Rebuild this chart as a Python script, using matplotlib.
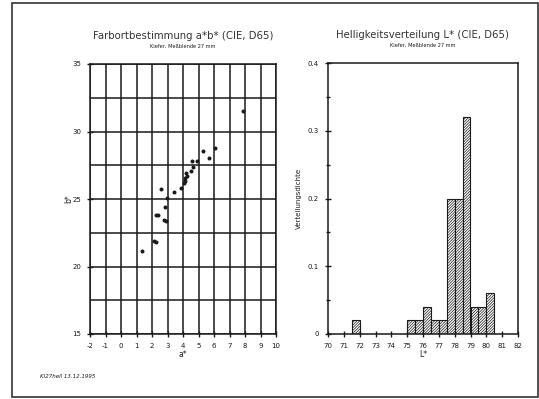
"""Farbort a*b* scatter and L* distribution histogram (Kiefer, 27 mm)."""

import matplotlib.pyplot as plt
from matplotlib.patches import Rectangle
from matplotlib.ticker import MultipleLocator

# a*, b* measurements
a_star = [7.84, 5.26, 6.08, 5.67, 4.89, 4.59, 4.66, 4.51, 4.18, 4.23, 4.16, 4.12,
          4.08, 3.86, 3.43, 2.61, 2.98, 2.87, 2.29, 2.40, 2.78, 2.91, 2.12, 2.25, 1.37]
b_star = [31.5, 28.58, 28.75, 28.06, 27.84, 27.82, 27.38, 27.06, 26.96, 26.72, 26.52, 26.32,
          26.15, 25.78, 25.49, 25.74, 25.05, 24.41, 23.82, 23.80, 23.43, 23.38, 21.91, 21.79, 21.13]

# L* distribution (bins of 0.5)
bin_left = [71.5, 75.0, 75.5, 76.0, 76.5, 77.0, 77.5, 78.0, 78.5, 79.0, 79.5, 80.0]
density = [0.02, 0.02, 0.02, 0.04, 0.02, 0.02, 0.20, 0.20, 0.32, 0.04, 0.04, 0.06]

a_ticks = list(range(-2, 11))
b_ticks = [15, 20, 25, 30, 35]
l_ticks = list(range(70, 83))
d_ticks = [0, 0.1, 0.2, 0.3, 0.4]
d_labels = ["0", "0.1", "0.2", "0.3", "0.4"]

ink = "#1a1a1a"
plt.rcParams["hatch.linewidth"] = 0.5
plt.rcParams["hatch.color"] = "#555555"

fig = plt.figure(figsize=(5.39, 3.99), dpi=100)
fig.patches.append(Rectangle((12 / 539, 2 / 399), 526 / 539, 394 / 399, transform=fig.transFigure,
                             fill=False, edgecolor="#333333", linewidth=1.2))

# --- left: a*b* scatter ---
ax = fig.add_axes([90 / 539, 65 / 399, 186 / 539, 270 / 399])
ax.set_xlim(-2, 10)
ax.set_ylim(15, 35)
ax.set_xticks(a_ticks)
ax.set_xticklabels([str(t) for t in a_ticks])
ax.set_yticks(b_ticks)
ax.yaxis.set_minor_locator(MultipleLocator(2.5))
ax.grid(which="both", color=ink, linewidth=1.1)
ax.set_axisbelow(True)
ax.scatter(a_star, b_star, s=3.5, color=ink, zorder=3)
ax.tick_params(which="both", direction="inout", length=5, width=1, labelsize=5, colors=ink, pad=4)
ax.tick_params(which="minor", length=0)
for s in ax.spines.values():
    s.set_linewidth(1.1)
    s.set_color(ink)
ax.set_xlabel("a*", fontsize=5.5, labelpad=1, color=ink)
ax.set_ylabel("b*", fontsize=5.5, labelpad=-1, color=ink)
ax.text(0.5, 1.085, "Farbortbestimmung a*b* (CIE, D65)", transform=ax.transAxes,
        ha="center", va="bottom", fontsize=7.3, color="#333333")
ax.text(0.5, 1.055, "Kiefer, Meßblende 27 mm", transform=ax.transAxes,
        ha="center", va="bottom", fontsize=3.6, color=ink)

# --- right: L* histogram ---
ax2 = fig.add_axes([328 / 539, 65 / 399, 190 / 539, 271 / 399])
ax2.bar(bin_left, density, width=0.5, align="edge", facecolor="white",
        edgecolor=ink, linewidth=0.8, hatch="////////////")
ax2.set_xlim(70, 82)
ax2.set_ylim(0, 0.4)
ax2.set_xticks(l_ticks)
ax2.set_yticks(d_ticks)
ax2.set_yticklabels(d_labels)
ax2.yaxis.set_minor_locator(MultipleLocator(0.05))
ax2.tick_params(which="both", direction="inout", length=5, width=1, labelsize=5, colors=ink, pad=4)
ax2.tick_params(which="minor", length=3)
for s in ax2.spines.values():
    s.set_linewidth(1.1)
    s.set_color(ink)
ax2.set_xlabel("L*", fontsize=5.5, labelpad=1, color=ink)
ax2.set_ylabel("Verteilungsdichte", fontsize=5, labelpad=4, color=ink)
ax2.text(0.5, 1.085, "Helligkeitsverteilung L* (CIE, D65)", transform=ax2.transAxes,
         ha="center", va="bottom", fontsize=7.3, color="#333333")
ax2.text(0.5, 1.055, "Kiefer, Meßblende 27 mm", transform=ax2.transAxes,
         ha="center", va="bottom", fontsize=3.6, color=ink)

fig.text(40 / 539, 1 - 376 / 399, "KI27hell 13.12.1995", fontsize=4, style="italic",
         color=ink, ha="left", va="center")

fig.savefig("out.png", dpi=100)
